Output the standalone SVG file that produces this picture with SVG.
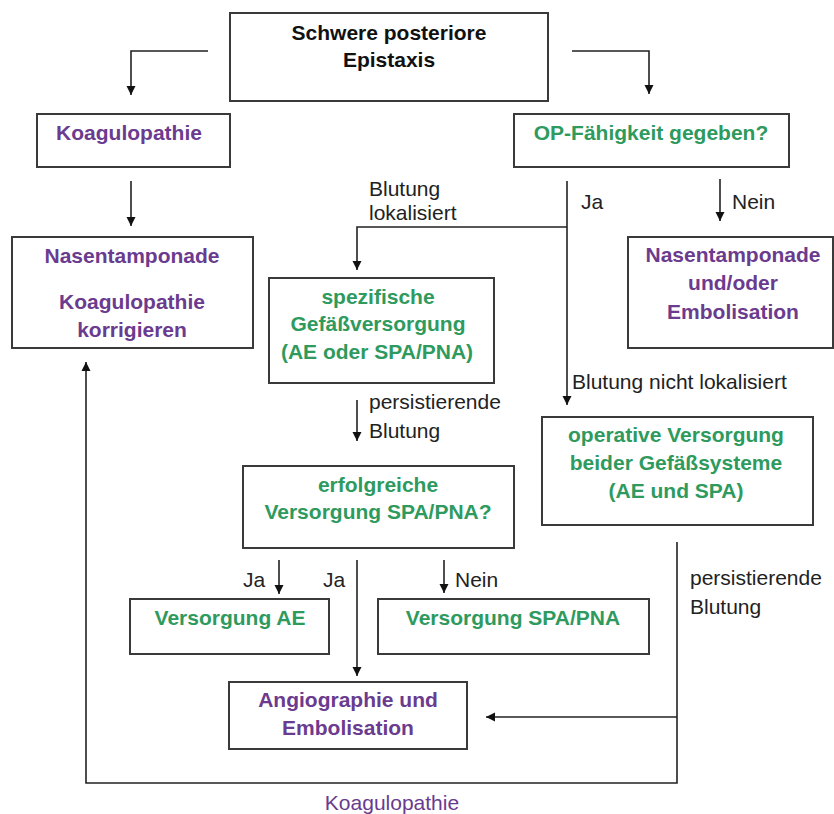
<svg xmlns="http://www.w3.org/2000/svg" width="834" height="814" viewBox="0 0 834 814">
<defs>
<marker id="ah" viewBox="0 0 10 10" refX="10" refY="5" markerWidth="9" markerHeight="10" markerUnits="userSpaceOnUse" orient="auto">
<path d="M0,0 L10,5 L0,10 z" fill="#111"/>
</marker>
<style>
.box{fill:#fff;stroke:#3a3a3a;stroke-width:2}
.b{font-family:"Liberation Sans",Arial,sans-serif;font-size:21px;font-weight:bold;text-anchor:middle}
.k{fill:#111}
.p{fill:#6a3b8e}
.g{fill:#2e9a5e}
.lbl{font-family:"Liberation Sans",Arial,sans-serif;font-size:21px;fill:#222}
.con{fill:none;stroke:#222;stroke-width:1.6}
</style>
</defs>
<rect width="834" height="814" fill="#fff"/>
<g id="connectors">
<polyline class="con" points="208,51 131,51 131,95" marker-end="url(#ah)"/>
<polyline class="con" points="572,51 649,51 649,94" marker-end="url(#ah)"/>
<line class="con" x1="131" y1="181" x2="131" y2="226" marker-end="url(#ah)"/>
<line class="con" x1="567" y1="181" x2="567" y2="405" marker-end="url(#ah)"/>
<polyline class="con" points="567,227 357,227 357,270" marker-end="url(#ah)"/>
<line class="con" x1="720" y1="179" x2="720" y2="221" marker-end="url(#ah)"/>
<line class="con" x1="357" y1="400" x2="357" y2="441" marker-end="url(#ah)"/>
<line class="con" x1="279" y1="560" x2="279" y2="594" marker-end="url(#ah)"/>
<line class="con" x1="357" y1="560" x2="357" y2="676" marker-end="url(#ah)"/>
<line class="con" x1="444" y1="560" x2="444" y2="593" marker-end="url(#ah)"/>
<polyline class="con" points="677,542 677,783 86,783 86,362" marker-end="url(#ah)"/>
<line class="con" x1="677" y1="717" x2="486" y2="717" marker-end="url(#ah)"/>
<text class="lbl" x="369" y="196">Blutung</text>
<text class="lbl" x="369" y="220">lokalisiert</text>
<text class="lbl" x="581" y="209">Ja</text>
<text class="lbl" x="732" y="209">Nein</text>
<text class="lbl" x="572" y="389">Blutung nicht lokalisiert</text>
<text class="lbl" x="369" y="409">persistierende</text>
<text class="lbl" x="369" y="438">Blutung</text>
<text class="lbl" x="243" y="587">Ja</text>
<text class="lbl" x="323" y="587">Ja</text>
<text class="lbl" x="455" y="587">Nein</text>
<text class="lbl" x="690" y="585">persistierende</text>
<text class="lbl" x="690" y="614">Blutung</text>
<text class="lbl" x="392" y="810" text-anchor="middle" style="fill:#6a3b8e">Koagulopathie</text>
</g>
<g id="start">
<rect class="box" x="230" y="13" width="318" height="88"/>
<text class="b k" x="389" y="40">Schwere posteriore</text>
<text class="b k" x="389" y="67">Epistaxis</text>
</g>
<g id="koag">
<rect class="box" x="37" y="114" width="193" height="53"/>
<text class="b p" x="129" y="140">Koagulopathie</text>
</g>
<g id="op">
<rect class="box" x="514" y="114" width="275" height="53"/>
<text class="b g" x="651" y="140">OP-Fähigkeit gegeben?</text>
</g>
<g id="nasL">
<rect class="box" x="12" y="237" width="241" height="111"/>
<text class="b p" x="132" y="263">Nasentamponade</text>
<text class="b p" x="132" y="309">Koagulopathie</text>
<text class="b p" x="132" y="337">korrigieren</text>
</g>
<g id="spez">
<rect class="box" x="269" y="278" width="225" height="105"/>
<text class="b g" x="378" y="304">spezifische</text>
<text class="b g" x="378" y="331">Gefäßversorgung</text>
<text class="b g" x="377" y="359">(AE oder SPA/PNA)</text>
</g>
<g id="nasR">
<rect class="box" x="628" y="237" width="205" height="111"/>
<text class="b p" x="733" y="262">Nasentamponade</text>
<text class="b p" x="733" y="290">und/oder</text>
<text class="b p" x="733" y="319">Embolisation</text>
</g>
<g id="operativ">
<rect class="box" x="542" y="417" width="271" height="108"/>
<text class="b g" x="676" y="442">operative Versorgung</text>
<text class="b g" x="676" y="470">beider Gefäßsysteme</text>
<text class="b g" x="676" y="498">(AE und SPA)</text>
</g>
<g id="erfolg">
<rect class="box" x="243" y="466" width="271" height="82"/>
<text class="b g" x="378" y="492">erfolgreiche</text>
<text class="b g" x="378" y="519">Versorgung SPA/PNA?</text>
</g>
<g id="vae">
<rect class="box" x="130" y="599" width="199" height="55"/>
<text class="b g" x="230" y="625">Versorgung AE</text>
</g>
<g id="vspa">
<rect class="box" x="378" y="599" width="271" height="55"/>
<text class="b g" x="513" y="625">Versorgung SPA/PNA</text>
</g>
<g id="angio">
<rect class="box" x="229" y="682" width="238" height="67"/>
<text class="b p" x="348" y="707">Angiographie und</text>
<text class="b p" x="348" y="735">Embolisation</text>
</g>
</svg>
